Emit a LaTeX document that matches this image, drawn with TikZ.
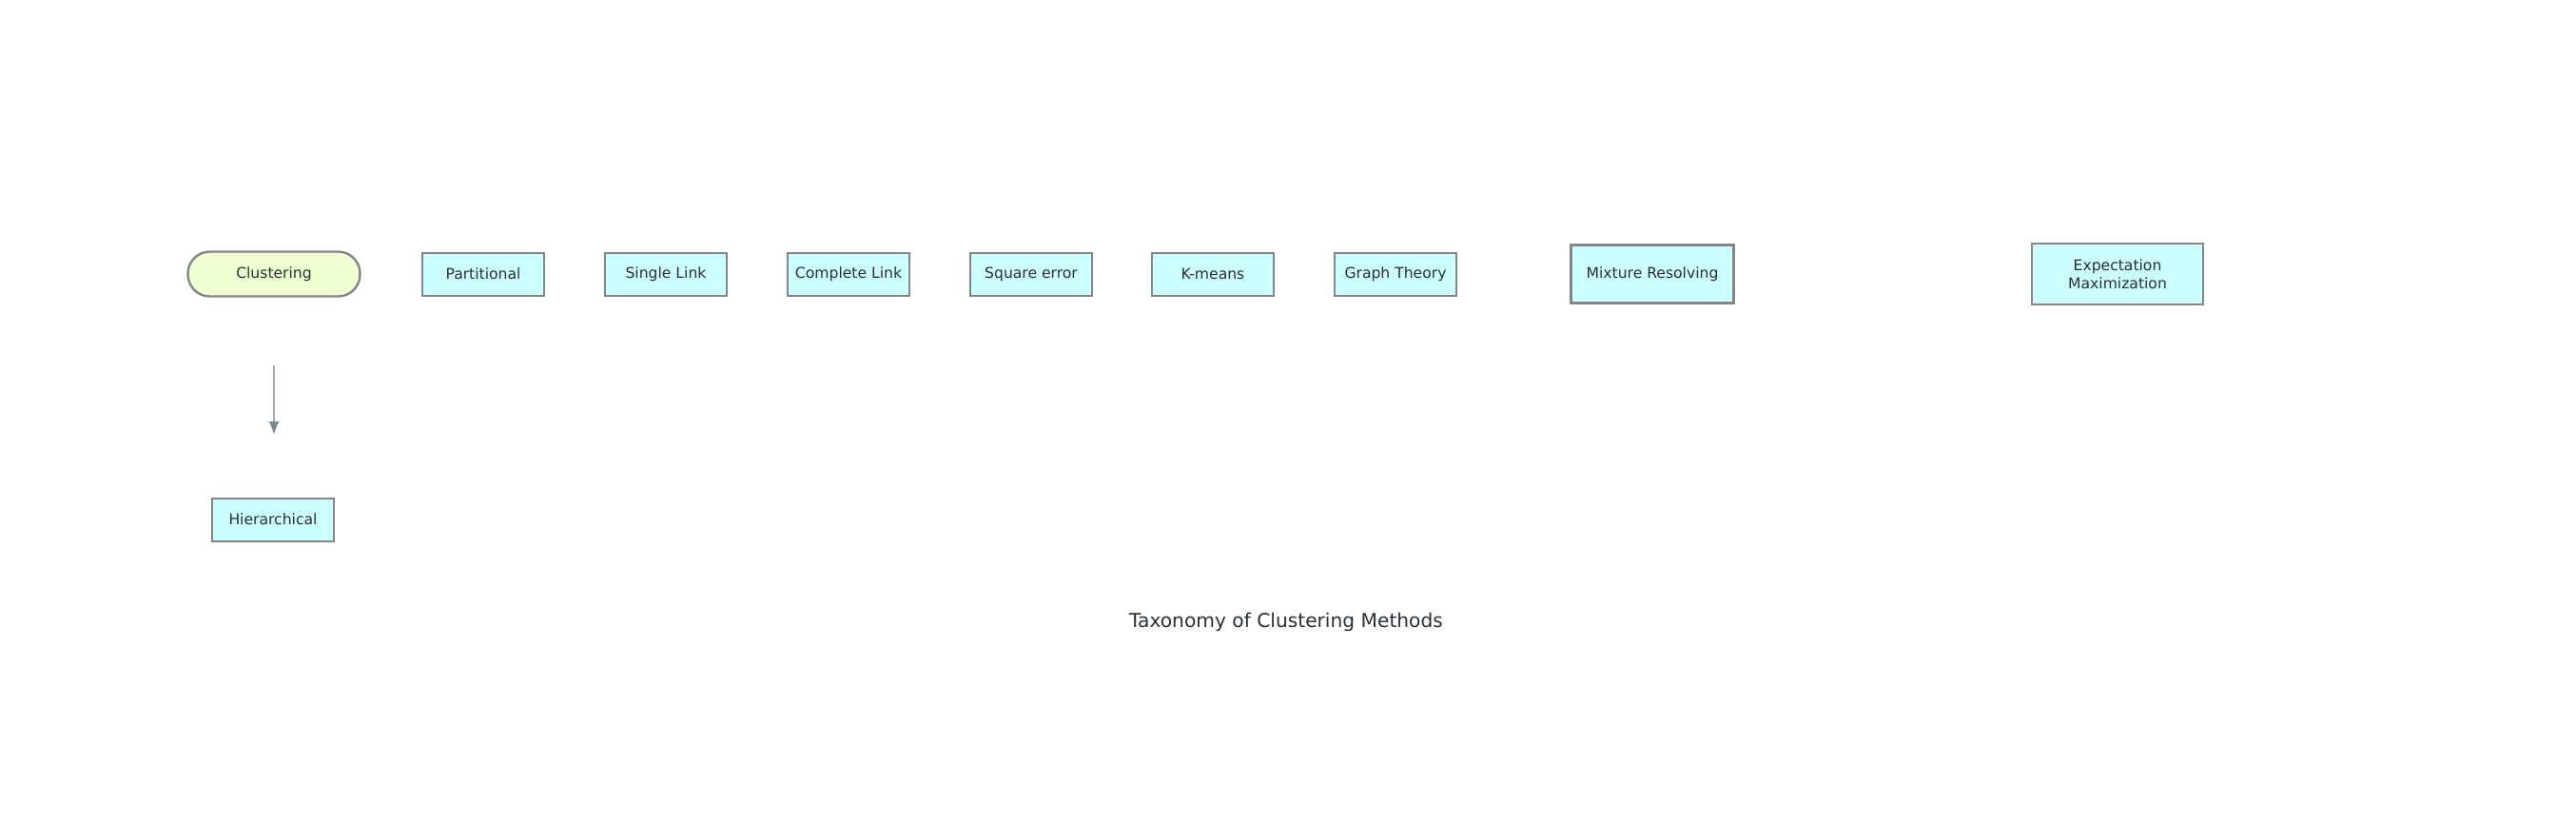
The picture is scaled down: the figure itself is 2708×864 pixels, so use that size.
\documentclass[tikz,border=0pt]{standalone}
\usepackage{fontspec}
\setmainfont{DejaVu Sans}
\usetikzlibrary{arrows.meta}
\definecolor{boxfill}{HTML}{CCFFFF}
\definecolor{rootfill}{HTML}{F0FFD0}
\definecolor{boxline}{HTML}{858585}
\definecolor{txt}{HTML}{2A2F33}
\definecolor{arrline}{HTML}{A0A8B2}
\definecolor{arrhead}{HTML}{7A8796}
\tikzset{
  box/.style={draw=boxline, line width=1pt, fill=boxfill, minimum width=64pt, minimum height=22.5pt, inner sep=0pt, text=txt, font=\fontsize{7.8}{9.5}\selectfont, align=center},
  bigbox/.style={box, line width=1.4pt},
  root/.style={box, fill=rootfill, rounded corners=11.5pt, line width=1.2pt, minimum width=90.5pt, minimum height=23.5pt},
  conn/.style={draw=arrline, line width=0.8pt, -{Latex[length=7pt,width=5.5pt,fill=arrhead,color=arrhead]}},
  titlestyle/.style={text=txt, font=\fontsize{10.1}{12}\selectfont, inner sep=0pt}
}
\begin{document}
\begin{tikzpicture}[x=0.5pt,y=-0.5pt]
\useasboundingbox (0,0) rectangle (2708,864);
\node[root] (clustering) at (288,288) {Clustering};
\node[box] (partitional) at (508,288) {Partitional};
\node[box] (single) at (700,288) {Single Link};
\node[box] (complete) at (892,288) {Complete Link};
\node[box] (square) at (1084,288) {Square error};
\node[box] (kmeans) at (1275,288) {K-means};
\node[box] (graph) at (1467,288) {Graph Theory};
\node[bigbox, minimum width=85.5pt, minimum height=30.5pt] (mixture) at (1737,288) {Mixture Resolving};
\node[bigbox, minimum width=90pt, minimum height=32pt] (em) at (2226,288) {Expectation\\Maximization};
\node[box] (hier) at (287,546) {Hierarchical};
\coordinate (a1) at (288,384);
\coordinate (a2) at (288,457);
\draw[conn] (a1) -- (a2);
\node[titlestyle] (title) at (1352,654) {Taxonomy of Clustering Methods};
\end{tikzpicture}
\end{document}
